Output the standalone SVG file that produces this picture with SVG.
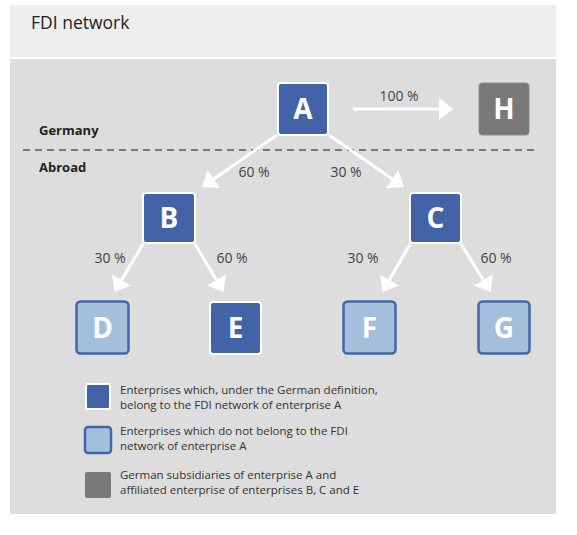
<svg xmlns="http://www.w3.org/2000/svg" width="577" height="535" viewBox="0 0 577 535">
<style>
.lbl{font-family:"Open Sans","Noto Sans","Liberation Sans",sans-serif;font-size:14px;fill:#444;text-anchor:middle}
.node{font-family:"Open Sans","Noto Sans","Liberation Sans",sans-serif;font-size:28px;font-weight:700;fill:#fff;text-anchor:middle}
.dark{fill:#4263a8;stroke:#fff;stroke-width:2}
.light{fill:#a3bfdc;stroke:#4465aa;stroke-width:2.5}
.grey{fill:#787878;stroke:#8c8c8c;stroke-width:1}
.region{font-family:"Open Sans","Noto Sans","Liberation Sans",sans-serif;font-size:13px;font-weight:700;fill:#222}
.leg{font-family:"Open Sans","Noto Sans","Liberation Sans",sans-serif;font-size:11.5px;fill:#333}
.arr{stroke:#fff;stroke-width:3;fill:none;marker-end:url(#ah)}
</style>
<defs>
<marker id="ah" viewBox="0 0 14 22" refX="7" refY="11" markerWidth="14" markerHeight="22" markerUnits="userSpaceOnUse" orient="auto">
<path d="M0,0 L14,11 L0,22 z" fill="#fff"/>
</marker>
</defs>
<rect x="0" y="0" width="577" height="535" fill="#fff"/>
<rect x="10" y="5" width="546" height="52" fill="#eeeeee"/>
<rect x="10" y="59" width="546" height="455" fill="#dddddd"/>
<text x="31" y="29" font-family="Open Sans, Noto Sans, Liberation Sans, sans-serif" font-size="17.5" fill="#222">FDI network</text>
<text class="region" x="39" y="135">Germany</text>
<text class="region" x="39" y="172">Abroad</text>
<line x1="23" y1="150" x2="537" y2="150" stroke="#555" stroke-width="1.5" stroke-dasharray="7 5"/>
<g id="connectors">
<line class="arr" x1="353" y1="109" x2="446" y2="109"/>
<line class="arr" x1="277" y1="135" x2="208" y2="183"/>
<line class="arr" x1="329" y1="135" x2="398" y2="183"/>
<line class="arr" x1="143" y1="244" x2="118" y2="286"/>
<line class="arr" x1="195" y1="244" x2="220" y2="286"/>
<line class="arr" x1="410" y1="244" x2="386" y2="286"/>
<line class="arr" x1="461" y1="244" x2="487" y2="286"/>
<text class="lbl" x="399" y="101">100 %</text>
<text class="lbl" x="254" y="177">60 %</text>
<text class="lbl" x="346" y="177">30 %</text>
<text class="lbl" x="110" y="263">30 %</text>
<text class="lbl" x="232" y="263">60 %</text>
<text class="lbl" x="363" y="263">30 %</text>
<text class="lbl" x="496" y="263">60 %</text>
</g>
<g id="node-A"><rect class="dark" x="278" y="83" width="50" height="52" rx="3"/><text class="node" x="303" y="119">A</text></g>
<g id="node-H"><rect class="grey" x="479" y="83" width="50" height="52" rx="3"/><text class="node" x="504" y="119">H</text></g>
<g id="node-B"><rect class="dark" x="143" y="193" width="52" height="50" rx="3"/><text class="node" x="169" y="228">B</text></g>
<g id="node-C"><rect class="dark" x="410" y="193" width="51" height="50" rx="3"/><text class="node" x="435.5" y="228">C</text></g>
<g id="node-D"><rect class="light" x="76.5" y="301.5" width="52" height="52" rx="4"/><text class="node" x="102.5" y="338">D</text></g>
<g id="node-E"><rect class="dark" x="210" y="302" width="51" height="52" rx="3"/><text class="node" x="235.5" y="338">E</text></g>
<g id="node-F"><rect class="light" x="343.5" y="301.5" width="52" height="52" rx="4"/><text class="node" x="369.5" y="338">F</text></g>
<g id="node-G"><rect class="light" x="478.5" y="301.5" width="51" height="52" rx="4"/><text class="node" x="504" y="338">G</text></g>
<g id="legend">
<rect class="dark" x="86" y="384" width="24" height="25" rx="2" stroke-width="1.5"/>
<text class="leg" x="120" y="394">Enterprises which, under the German definition,</text>
<text class="leg" x="120" y="409">belong to the FDI network of enterprise A</text>
<rect class="light" x="85" y="427" width="26" height="26" rx="3" stroke-width="1.5"/>
<text class="leg" x="120" y="435">Enterprises which do not belong to the FDI</text>
<text class="leg" x="120" y="450">network of enterprise A</text>
<rect x="85" y="472" width="26" height="26" rx="2" fill="#787878"/>
<text class="leg" x="120" y="479">German subsidiaries of enterprise A and</text>
<text class="leg" x="120" y="494">affiliated enterprise of enterprises B, C and E</text>
</g>
</svg>
